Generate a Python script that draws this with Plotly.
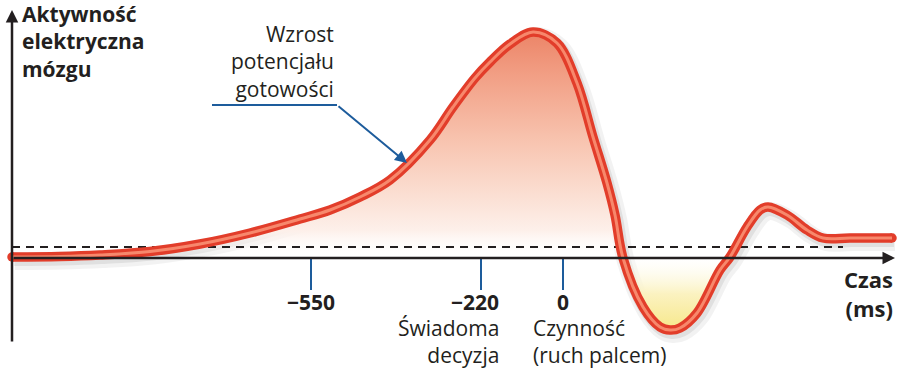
import plotly.graph_objects as go

# ---- data (illustrative units: x = time axis position, y = activity level, 0 = x-axis) ----
curve_x = [12, 60, 100, 150, 200, 250, 300, 330, 360, 390, 430, 453, 475, 490, 510, 533,
           557, 577, 593, 607, 615, 623, 643, 660, 670, 680, 697, 720, 730, 747, 760, 768,
           787, 807, 823, 850, 892]
curve_y = [1, 1.5, 3, 6.5, 14, 25, 39, 48, 61, 78, 118, 151, 180, 196, 214, 226,
           215, 175, 121, 75, 43, 0, -49, -69, -72, -70, -55, -12, 1, 31, 48, 51,
           43, 28, 20, 20, 20]
baseline_level = 11
tick_x = [311, 481, 563]
tick_labels = ["−550", "−220", "0"]
tick_notes = ["", "Świadoma<br>decyzja", "Czynność<br>(ruch palcem)"]

FONT = "Open Sans"
DARK = "#231f20"
BLUE = "#1d5c9c"
RED_OUT = "#e23d2a"
RED_IN = "#f7886c"

X_RANGE = [0, 900]
Y_RANGE = [-115, 258]

fig = go.Figure()

# shadow
fig.add_trace(go.Scatter(x=[v + 3 for v in curve_x], y=[v - 4 for v in curve_y], mode="lines",
                         line=dict(color="rgba(0,0,0,0.05)", width=18, shape="spline", smoothing=1),
                         hoverinfo="skip"))
fig.add_trace(go.Scatter(x=[v + 2 for v in curve_x], y=[v - 3 for v in curve_y], mode="lines",
                         line=dict(color="rgba(0,0,0,0.07)", width=12, shape="spline", smoothing=1),
                         hoverinfo="skip"))

# positive fill (before action) and negative fill (trough)
i0 = curve_x.index(623)
i1 = curve_x.index(730)
pos_x, pos_y = curve_x[:i0 + 1], curve_y[:i0 + 1]
neg_x, neg_y = curve_x[i0:i1 + 1], curve_y[i0:i1 + 1]

fig.add_trace(go.Scatter(x=pos_x, y=pos_y, mode="lines", fill="tozeroy",
                         line=dict(width=0, shape="spline", smoothing=1),
                         fillgradient=dict(type="vertical", start=0, stop=max(curve_y),
                                           colorscale=[[0, "rgba(255,255,255,0)"],
                                                       [0.12, "#fdf0ea"],
                                                       [0.5, "#f8c6b2"],
                                                       [0.8, "#f2a086"],
                                                       [1, "#ec8467"]]),
                         hoverinfo="skip"))
fig.add_trace(go.Scatter(x=neg_x, y=neg_y, mode="lines", fill="tozeroy",
                         line=dict(width=0, shape="spline", smoothing=1),
                         fillgradient=dict(type="vertical", start=min(curve_y), stop=0,
                                           colorscale=[[0, "#f7e88a"],
                                                       [0.5, "#fbf2c0"],
                                                       [1, "rgba(255,255,255,0.3)"]]),
                         hoverinfo="skip"))

# dashed baseline
fig.add_trace(go.Scatter(x=[12, 843], y=[baseline_level, baseline_level], mode="lines",
                         line=dict(color=DARK, width=2.2, dash="8px,6px"), hoverinfo="skip"))

# main curve
fig.add_trace(go.Scatter(x=curve_x, y=curve_y, mode="lines",
                         line=dict(color=RED_OUT, width=9.5, shape="spline", smoothing=1),
                         hoverinfo="skip"))
fig.add_trace(go.Scatter(x=[curve_x[0], curve_x[-1]], y=[curve_y[0], curve_y[-1]], mode="markers",
                         marker=dict(color=RED_OUT, size=9.5), hoverinfo="skip"))
fig.add_trace(go.Scatter(x=curve_x, y=curve_y, mode="lines",
                         line=dict(color=RED_IN, width=3, shape="spline", smoothing=1),
                         hoverinfo="skip"))

shapes = []
# ticks
for tx in tick_x:
    shapes.append(dict(type="line", xref="x", yref="y", x0=tx, x1=tx, y0=0, y1=-32,
                       line=dict(color=BLUE, width=2)))
# leader horizontal
shapes.append(dict(type="line", xref="x", yref="y", x0=212, x1=337, y0=153, y1=153,
                   line=dict(color=BLUE, width=2)))

annotations = []
# axes with arrows
annotations.append(dict(x=12, y=248, ax=12, ay=-85, xref="x", yref="y", axref="x", ayref="y",
                        showarrow=True, arrowhead=2, arrowsize=1, arrowwidth=2.5,
                        arrowcolor=DARK, text="", standoff=0))
annotations.append(dict(x=895, y=0, ax=12, ay=0, xref="x", yref="y", axref="x", ayref="y",
                        showarrow=True, arrowhead=2, arrowsize=1, arrowwidth=2.5,
                        arrowcolor=DARK, text="", standoff=0))
# leader arrow
annotations.append(dict(x=407, y=95, ax=337, ay=153, xref="x", yref="y", axref="x", ayref="y",
                        showarrow=True, arrowhead=2, arrowsize=1.2, arrowwidth=2,
                        arrowcolor=BLUE, text="", standoff=0))

annotations.append(dict(x=20 / 900, y=1 + 2 / 373, xref="paper", yref="paper",
                        xanchor="left", yanchor="top", align="left", showarrow=False,
                        text="Aktywność<br>elektryczna<br>mózgu",
                        font=dict(family=FONT, size=21, color=DARK, weight=700)))
annotations.append(dict(x=336, y=240, xref="x", yref="y", xanchor="right", yanchor="top",
                        align="right", showarrow=False,
                        text="Wzrost<br>potencjału<br>gotowości",
                        font=dict(family=FONT, size=21, color=DARK)))
annotations.append(dict(x=895, y=-4, xref="x", yref="y", xanchor="right", yanchor="top",
                        align="right", showarrow=False, text="Czas<br>(ms)",
                        font=dict(family=FONT, size=22, color=DARK, weight=700)))

anchors = ["center", "right", "center"]
xpos = [tick_x[0], tick_x[1] + 20, tick_x[2]]
for lab, xa, xp in zip(tick_labels, anchors, xpos):
    annotations.append(dict(x=xp, y=-44, xref="x", yref="y", xanchor=xa, yanchor="middle",
                            showarrow=False, text=lab,
                            font=dict(family=FONT, size=21, color=DARK, weight=700)))
annotations.append(dict(x=tick_x[1] + 20, y=-54, xref="x", yref="y", xanchor="right",
                        yanchor="top", align="right", showarrow=False, text=tick_notes[1],
                        font=dict(family=FONT, size=21, color=DARK)))
annotations.append(dict(x=tick_x[2] - 32, y=-54, xref="x", yref="y", xanchor="left",
                        yanchor="top", align="left", showarrow=False, text=tick_notes[2],
                        font=dict(family=FONT, size=21, color=DARK)))

fig.update_layout(width=900, height=373, margin=dict(l=0, r=0, t=0, b=0),
                  paper_bgcolor="white", plot_bgcolor="white", showlegend=False,
                  xaxis=dict(range=X_RANGE, visible=False, fixedrange=True),
                  yaxis=dict(range=Y_RANGE, visible=False, fixedrange=True),
                  shapes=shapes, annotations=annotations)

fig.write_html("out.html", config={"displayModeBar": False, "staticPlot": True},
               post_script="document.body.style.margin='0';document.body.style.overflow='hidden';")
